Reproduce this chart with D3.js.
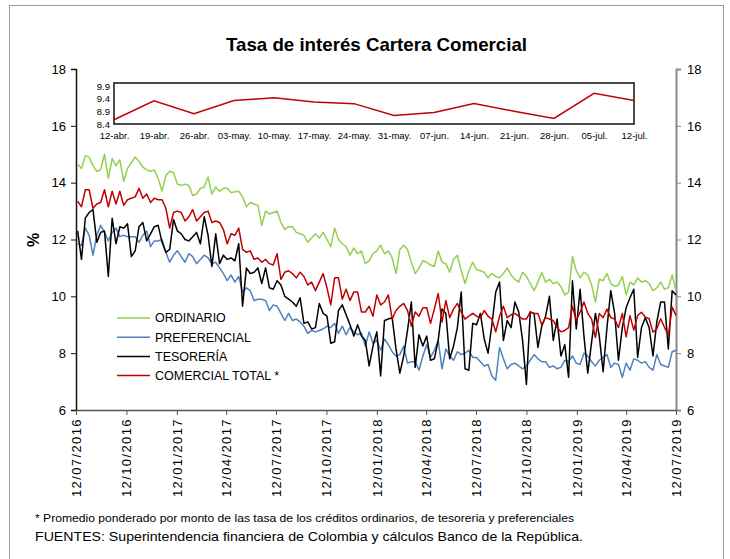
<!DOCTYPE html>
<html>
<head>
<meta charset="utf-8">
<script src="https://cdn.jsdelivr.net/npm/d3@7"></script>
<style>
  body { margin: 0; background: #fff; }
  text { font-family: "Liberation Sans Narrow", "Arial Narrow", "Liberation Sans", Arial, sans-serif; fill: #000; }
</style>
</head>
<body>
<div id="chart"></div>
<script>
// weekly series, 12/07/2016 - 12/07/2019 (%)
var ordinario = [14.65,14.5,14.95,14.9,14.6,14.4,14.45,15.0,14.15,14.85,14.6,14.8,14.05,14.5,14.7,14.9,14.75,14.55,14.45,14.4,
  14.45,14.15,13.7,14.25,14.4,14.35,13.95,13.9,13.95,13.9,13.55,13.6,13.8,13.85,14.2,13.6,13.85,13.7,13.8,13.8,
  13.65,13.68,13.7,13.5,13.15,13.3,13.25,13.2,12.5,13.0,12.9,12.95,13.0,12.6,12.35,12.45,12.45,12.25,12.2,12.15,
  11.9,12.05,12.2,12.05,12.25,12.0,11.75,12.4,12.0,11.85,11.75,11.45,11.7,11.5,11.6,11.15,11.25,11.5,11.6,11.8,
  11.5,11.6,11.35,10.8,11.65,11.8,11.65,11.2,10.8,11.0,11.25,11.2,11.1,11.05,11.6,11.2,11.15,10.85,11.3,11.45,
  10.9,10.45,10.9,11.2,10.95,10.9,10.85,10.65,10.8,10.7,10.65,10.8,11.0,10.75,10.6,10.5,10.85,10.7,10.45,10.2,
  10.5,10.85,10.5,10.6,10.45,10.5,10.35,10.05,10.15,11.4,10.9,10.65,10.85,10.75,10.4,9.8,10.6,10.55,10.8,10.45,
  10.35,10.4,10.7,10.05,10.5,10.4,10.65,10.5,10.55,10.45,10.2,10.3,10.5,10.25,10.3,10.75,10.2];

var preferencial = [11.85,11.8,12.4,12.15,11.45,12.15,12.5,12.25,11.95,12.25,12.4,12.1,12.15,12.1,12.1,12.1,11.9,12.15,12.3,11.75,
  11.95,11.95,12.0,11.55,11.2,11.45,11.6,11.4,11.2,11.5,11.4,11.15,11.3,11.45,11.35,11.15,11.2,11.0,10.8,10.55,
  10.75,10.5,10.7,10.15,10.3,10.2,9.85,9.9,9.9,9.85,9.5,9.7,9.65,9.4,9.15,9.4,9.15,9.2,9.1,8.95,
  8.7,8.8,8.75,8.8,8.85,8.95,8.9,9.05,8.7,8.95,8.65,8.9,8.75,8.65,8.7,8.25,8.75,8.35,8.45,8.1,
  8.5,8.3,8.05,7.9,7.95,8.25,7.65,7.7,7.7,7.4,7.9,8.3,7.85,8.1,8.45,7.45,8.15,7.9,7.75,8.05,
  7.95,8.0,8.1,7.85,7.85,7.7,7.55,7.6,7.2,7.05,8.2,7.8,7.45,7.6,7.65,7.55,7.45,7.55,7.75,7.95,
  7.8,7.7,7.7,7.5,7.55,7.45,7.5,7.75,7.7,7.9,7.65,7.6,8.0,7.9,7.7,7.55,7.75,7.85,7.95,7.5,
  7.65,7.6,7.15,7.65,7.4,7.8,7.75,7.65,7.7,7.5,7.4,7.95,7.6,7.55,7.5,8.05,8.1];

var tesoreria = [12.3,11.3,12.75,12.95,13.05,11.9,12.25,12.3,10.7,12.75,11.85,12.45,12.4,12.55,11.4,11.6,12.45,12.6,11.95,12.2,
  12.45,12.5,11.9,11.55,11.65,12.7,12.3,12.2,12.0,11.95,12.1,12.25,11.85,12.8,12.15,11.05,12.2,11.15,11.45,11.3,
  11.35,11.25,11.85,9.65,11.0,10.8,10.85,11.0,10.45,11.0,10.3,10.25,10.55,10.4,10.0,9.9,9.8,9.65,9.95,9.05,
  9.1,8.85,8.9,9.75,9.4,9.3,8.35,8.4,9.5,9.7,9.35,9.0,8.6,9.0,8.6,8.45,7.55,8.25,8.75,7.2,
  9.15,9.2,9.25,8.15,7.3,7.9,8.8,9.8,7.5,8.65,8.25,8.6,7.75,7.8,8.45,9.55,9.4,7.8,8.25,8.9,
  10.15,7.45,7.4,9.05,9.0,9.4,8.5,8.0,9.0,10.15,10.5,8.45,9.15,8.9,9.8,9.45,8.45,6.9,9.45,9.4,
  8.2,8.95,9.3,10.0,8.45,9.2,7.9,8.3,7.15,10.55,8.85,10.25,8.6,7.3,8.4,9.4,8.6,7.35,8.9,10.2,
  9.4,7.75,8.9,9.6,9.95,10.25,7.85,8.9,9.25,8.9,7.9,9.1,9.8,9.8,8.15,10.2,10.05];

var comercialTotal = [13.35,13.15,13.75,13.75,13.1,13.25,13.3,13.75,13.15,13.7,13.25,13.7,13.2,13.4,13.45,13.5,13.8,13.45,13.6,13.3,
  13.45,13.4,13.4,13.1,12.4,12.95,13.0,12.95,12.65,12.8,13.05,12.65,12.8,12.95,13.0,12.6,12.65,12.6,12.35,11.85,
  12.2,12.15,12.4,11.65,11.55,11.6,11.3,11.35,11.2,11.3,11.15,11.1,11.5,10.6,10.85,10.9,10.8,10.65,10.85,10.7,
  10.4,10.5,10.2,10.5,10.8,10.3,9.7,10.65,10.65,9.9,10.25,9.85,10.15,10.15,9.45,9.45,9.65,9.3,10.05,9.7,
  9.8,10.05,9.2,9.5,9.65,9.75,9.5,8.95,9.45,9.3,9.6,9.6,9.05,9.55,10.1,9.1,9.85,9.25,9.55,9.75,
  9.45,9.2,9.3,9.4,9.3,9.25,9.5,9.3,9.2,8.75,9.3,9.65,9.25,9.35,9.4,9.3,9.2,9.2,9.45,9.4,
  9.4,9.0,9.25,9.2,9.15,8.9,8.75,8.8,8.9,9.65,9.15,9.45,9.8,9.4,9.2,8.55,9.4,9.25,9.55,9.25,
  9.2,8.9,9.4,8.57,9.32,8.81,9.33,9.44,9.27,9.21,8.74,8.86,9.21,8.91,8.62,9.62,9.33];

var seriesNames = ["ORDINARIO", "PREFERENCIAL", "TESORERÍA", "COMERCIAL TOTAL *"];
var seriesColors = ["#92D050", "#4F81BD", "#000000", "#C00000"];

var yTicks = [6, 8, 10, 12, 14, 16, 18];
var xTickLabels = ["12/07/2016","12/10/2016","12/01/2017","12/04/2017","12/07/2017","12/10/2017","12/01/2018",
  "12/04/2018","12/07/2018","12/10/2018","12/01/2019","12/04/2019","12/07/2019"];

// inset: last 14 weeks of the commercial total rate
var insetLabels = ["12-abr.","19-abr.","26-abr.","03-may.","10-may.","17-may.","24-may.","31-may.","07-jun.",
  "14-jun.","21-jun.","28-jun.","05-jul.","12-jul."];
var insetValues = [8.57,9.32,8.81,9.33,9.44,9.27,9.21,8.74,8.86,9.21,8.91,8.62,9.62,9.33];
var insetTicks = [8.4, 8.9, 9.4, 9.9];

var svgWidth = 730;
var svgHeight = 559;

var chartMargin = { top: 69, right: 54, bottom: 149, left: 76 };
var chartWidth = svgWidth - chartMargin.left - chartMargin.right;
var chartHeight = svgHeight - chartMargin.top - chartMargin.bottom;

var svg = d3.select("#chart")
    .append("svg")
    .attr("width", svgWidth)
    .attr("height", svgHeight);

// outer frame
svg.append("rect")
    .attr("x", 9.5).attr("y", 5.5)
    .attr("width", 714).attr("height", 600)
    .attr("fill", "none")
    .attr("stroke", "#9a9a9a");

svg.append("text")
    .attr("x", 226).attr("y", 51)
    .attr("textLength", 301).attr("lengthAdjust", "spacingAndGlyphs")
    .style("font-family", "'Liberation Sans', Arial, sans-serif")
    .style("font-weight", "bold")
    .style("font-size", "19px")
    .text("Tasa de interés Cartera Comercial");

var chartGroup = svg.append("g")
    .attr("transform", `translate(${chartMargin.left}, ${chartMargin.top})`);

var parseDate = d3.timeParse("%d/%m/%Y");
var endDate = parseDate("12/07/2019");
var dates = ordinario.map(function(d, i) {
    return d3.timeDay.offset(endDate, -7 * (ordinario.length - 1 - i));
});

var xTimeScale = d3.scaleTime()
    .domain([parseDate(xTickLabels[0]), endDate])
    .range([0, chartWidth]);

var yLinearScale = d3.scaleLinear()
    .domain([6, 18])
    .range([chartHeight, 0]);

// left axis
var leftAxis = chartGroup.append("g")
    .call(d3.axisLeft(yLinearScale).tickValues(yTicks).tickSize(5).tickPadding(5));
leftAxis.select(".domain").attr("stroke", "#111").attr("stroke-width", 1.5);
leftAxis.selectAll(".tick line").attr("stroke", "#111");
leftAxis.selectAll("text").style("font-size", "13px");

// right axis
var rightAxis = chartGroup.append("g")
    .attr("transform", `translate(${chartWidth},0)`)
    .call(d3.axisRight(yLinearScale).tickValues(yTicks).tickSize(5).tickPadding(6));
rightAxis.select(".domain").attr("stroke", "#888").attr("stroke-width", 2);
rightAxis.selectAll(".tick line").attr("stroke", "#888");
rightAxis.selectAll("text").style("font-size", "13px");

// bottom axis
var bottomAxis = chartGroup.append("g")
    .attr("transform", `translate(0,${chartHeight})`)
    .call(d3.axisBottom(xTimeScale)
        .tickValues(xTickLabels.map(parseDate))
        .tickFormat(d3.timeFormat("%d/%m/%Y"))
        .tickSize(5).tickSizeOuter(0));
bottomAxis.select(".domain").attr("stroke", "#555").attr("stroke-width", 1.5);
bottomAxis.selectAll(".tick line").attr("stroke", "#555");
bottomAxis.selectAll("text")
    .attr("transform", "rotate(-90)")
    .attr("x", -8).attr("y", 0).attr("dy", "0.35em")
    .attr("text-anchor", "end")
    .style("font-size", "13px")
    .style("letter-spacing", "1.4px");

svg.append("text")
    .attr("transform", "translate(39,240) rotate(-90)")
    .attr("text-anchor", "middle")
    .style("font-weight", "bold")
    .style("font-size", "16px")
    .text("%");

// series lines
var allSeries = [ordinario, preferencial, tesoreria, comercialTotal];
var line = d3.line()
    .x(function(d, i) { return xTimeScale(dates[i]); })
    .y(function(d) { return yLinearScale(d); });

allSeries.forEach(function(values, k) {
    chartGroup.append("path")
        .datum(values)
        .attr("fill", "none")
        .attr("stroke", seriesColors[k])
        .attr("stroke-width", 1.5)
        .attr("stroke-linejoin", "round")
        .attr("d", line);
});

// legend
var legend = svg.append("g").attr("transform", "translate(117,318)");
seriesNames.forEach(function(name, k) {
    var row = legend.append("g").attr("transform", `translate(0,${k * 19.2})`);
    row.append("line")
        .attr("x1", 0).attr("x2", 33)
        .attr("stroke", seriesColors[k]).attr("stroke-width", 1.5);
    row.append("text")
        .attr("x", 38).attr("dy", "0.35em")
        .style("font-family", "'Liberation Sans', Arial, sans-serif")
        .style("font-size", "12.5px")
        .text(name);
});

// inset chart
var inset = { left: 114, top: 83, width: 520, height: 41 };
var insetGroup = svg.append("g")
    .attr("transform", `translate(${inset.left},${inset.top})`);

var xInset = d3.scalePoint()
    .domain(insetLabels)
    .range([0, inset.width]);
var yInset = d3.scaleLinear()
    .domain([8.4, 10.03])
    .range([inset.height, 0]);

insetGroup.append("rect")
    .attr("width", inset.width).attr("height", inset.height)
    .attr("fill", "#fff")
    .attr("stroke", "#111").attr("stroke-width", 1.5);

var insetY = insetGroup.append("g")
    .call(d3.axisLeft(yInset).tickValues(insetTicks).tickSize(0).tickPadding(4).tickFormat(d3.format(".1f")));
insetY.select(".domain").remove();
insetY.selectAll("text").style("font-size", "9.5px");

var insetX = insetGroup.append("g")
    .attr("transform", `translate(0,${inset.height})`)
    .call(d3.axisBottom(xInset).tickSize(0).tickPadding(8));
insetX.select(".domain").remove();
insetX.selectAll("text").style("font-size", "9.5px");

insetGroup.append("path")
    .datum(insetValues)
    .attr("fill", "none")
    .attr("stroke", "#C00000")
    .attr("stroke-width", 1.5)
    .attr("d", d3.line()
        .x(function(d, i) { return xInset(insetLabels[i]); })
        .y(function(d) { return yInset(d); }));

// notes
svg.append("text")
    .attr("x", 35).attr("y", 522)
    .attr("textLength", 539).attr("lengthAdjust", "spacingAndGlyphs")
    .style("font-size", "11px")
    .text("* Promedio ponderado por monto de las tasa de los créditos ordinarios, de tesoreria y preferenciales");

svg.append("text")
    .attr("x", 35).attr("y", 541)
    .attr("textLength", 548).attr("lengthAdjust", "spacingAndGlyphs")
    .style("font-size", "13.5px")
    .text("FUENTES:   Superintendencia financiera de Colombia  y cálculos Banco de la República.");
</script>
</body>
</html>
